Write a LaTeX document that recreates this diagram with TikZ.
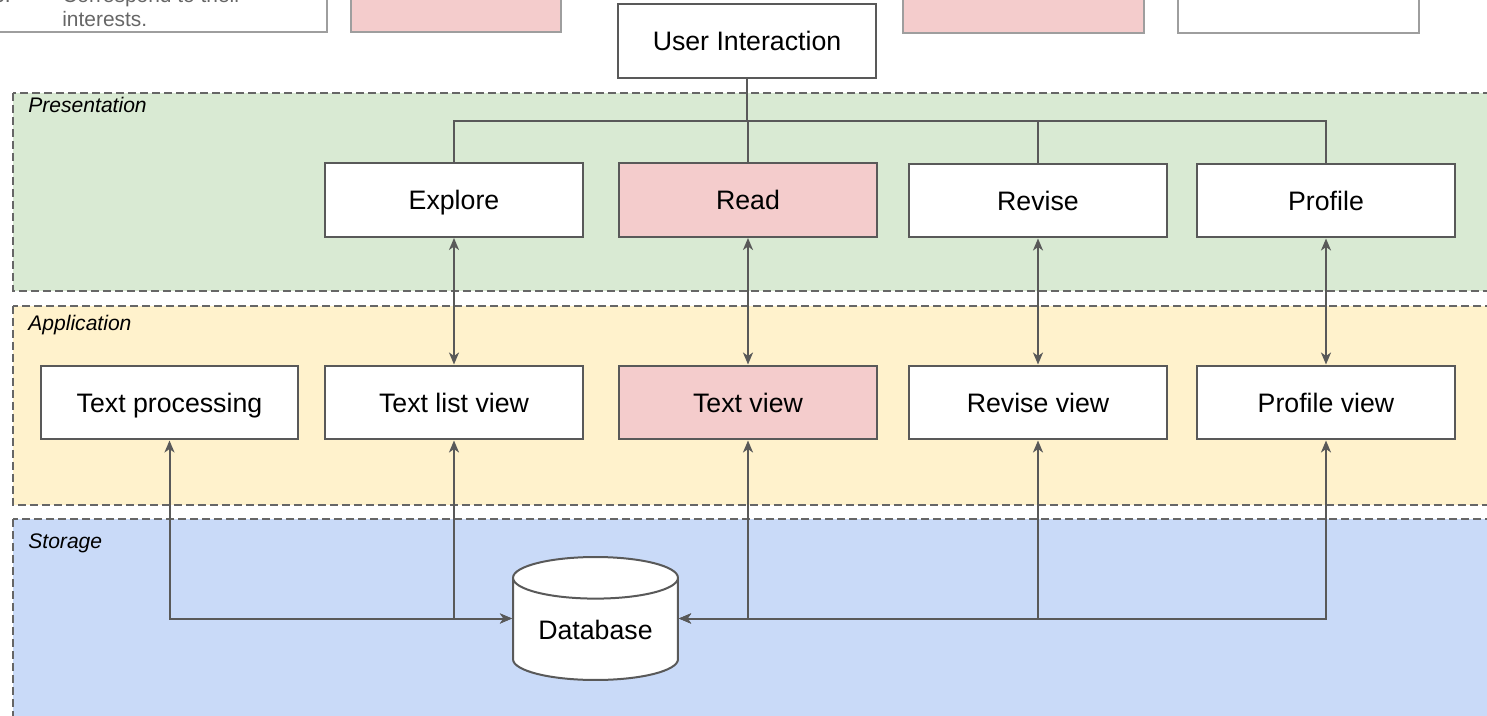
\documentclass[tikz,border=0pt]{standalone}
\usepackage{fontspec}
\setmainfont{Liberation Sans}
\usetikzlibrary{arrows.meta,shapes.geometric}
\definecolor{linegray}{HTML}{595959}
\definecolor{dashgray}{HTML}{666666}
\definecolor{oldgray}{HTML}{9E9E9E}
\definecolor{notegray}{HTML}{666666}
\definecolor{presgreen}{HTML}{D9EAD3}
\definecolor{appyellow}{HTML}{FFF2CC}
\definecolor{storeblue}{HTML}{C9DAF8}
\definecolor{hlpink}{HTML}{F4CCCC}
\begin{document}
\begin{tikzpicture}[x=0.02cm,y=-0.02cm,
    >={Stealth[length=0.24cm,width=0.2cm,inset=0.07cm]},
    box/.style={draw=linegray,line width=0.04cm,fill=white,minimum width=5.16cm,
        minimum height=1.48cm,text height=10.9pt,text depth=0pt,
        font=\fontsize{15.2}{18}\selectfont},
    layer/.style={draw=dashgray,line width=0.04cm,dash pattern=on 0.16cm off 0.08cm},
    layername/.style={anchor=base west,inner sep=0pt,font=\fontsize{12}{14}\selectfont\itshape},
    link/.style={draw=linegray,line width=0.04cm},
    oldbox/.style={draw=oldgray,line width=0.04cm},
    note/.style={anchor=base west,inner sep=0pt,text=notegray,font=\fontsize{11.9}{14}\selectfont}]
    \useasboundingbox (0,0) rectangle (1487,716);
    \clip (0,0) rectangle (1487,716);
    % leftovers of the row above
    \draw[oldbox] (-20,-40) rectangle (327,32);
    \draw[oldbox,fill=hlpink] (351,-40) rectangle (561,32);
    \draw[oldbox,fill=hlpink] (903,-40) rectangle (1144,33);
    \draw[oldbox] (1178,-40) rectangle (1419,33);
    \node[note,anchor=base east] (num) at (11,3) {3.};
    \node[note] (nl1) at (62,3) {Correspond to their};
    \node[note] (nl2) at (62,26.5) {interests.};
    % layers
    \draw[layer,fill=presgreen]  (13,93)  rectangle (1520,291);
    \draw[layer,fill=appyellow]  (13,306) rectangle (1520,505);
    \draw[layer,fill=storeblue]  (13,519) rectangle (1520,760);
    \node[layername] (lp) at (28,113) {Presentation};
    \node[layername] (la) at (28,330) {Application};
    \node[layername] (ls) at (28,548) {Storage};
    % boxes
    \node[box] (ui) at (747,41)    {User Interaction};
    \node[box] (ex) at (454,200)   {Explore};
    \node[box,fill=hlpink] (rd) at (748,200) {Read};
    \node[box] (rv) at (1038,200.5)  {Revise};
    \node[box] (pf) at (1326,200.5)  {Profile};
    \node[box] (tp) at (169.5,402.5) {Text processing};
    \node[box] (tl) at (454,402.5)   {Text list view};
    \node[box,fill=hlpink] (tv) at (748,402.5) {Text view};
    \node[box] (rvv) at (1038,402.5) {Revise view};
    \node[box] (pfv) at (1326,402.5) {Profile view};
    \node[box,cylinder,shape border rotate=90,aspect=0.33,minimum width=3.3cm,
        minimum height=2.46cm,text height=7.5pt,anchor=shape center] (db) at (595.5,618.5) {Database};
    % connectors
    \coordinate (bus) at (0,121);
    \foreach \n in {ex,rd,rv,pf}
        \draw[link] (ui.south) -- (ui.south |- bus) -| (\n.north);
    \draw[link,<->] (ex) -- (tl);
    \draw[link,<->] (rd) -- (tv);
    \draw[link,<->] (rv) -- (rvv);
    \draw[link,<->] (pf) -- (pfv);
    \foreach \n in {tp,tl}
        \draw[link,<->] (\n.south) |- (db.shape center -| db.west);
    \foreach \n in {tv,rvv,pfv}
        \draw[link,<->] (\n.south) |- (db.shape center -| db.east);
\end{tikzpicture}
\end{document}
